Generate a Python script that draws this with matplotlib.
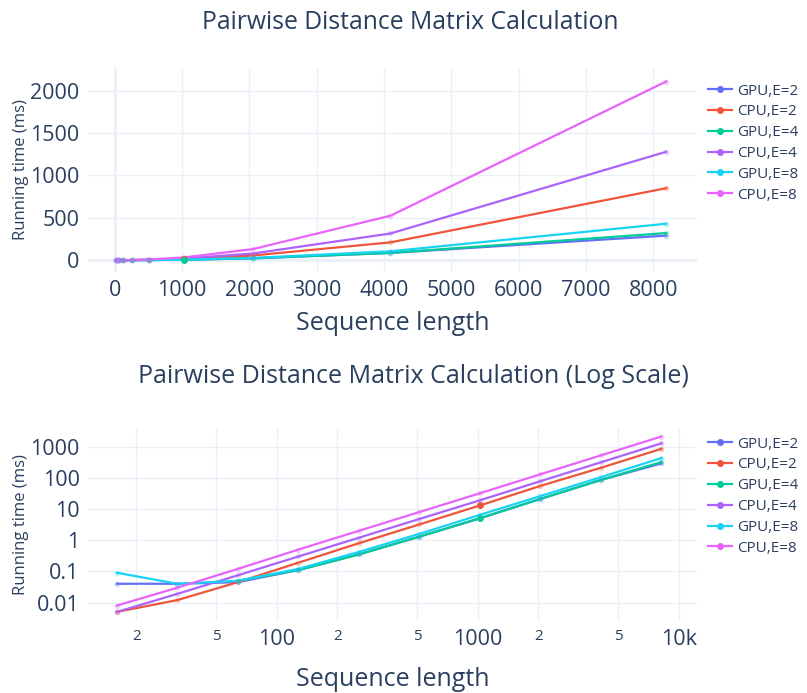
import numpy as np
import matplotlib.pyplot as plt
from matplotlib.lines import Line2D

plt.rcParams['font.family'] = ['Open Sans', 'DejaVu Sans']

seq_len = [16, 32, 64, 128, 256, 512, 1024, 2048, 4096, 8192]
names = ['GPU,E=2', 'CPU,E=2', 'GPU,E=4', 'CPU,E=4', 'GPU,E=8', 'CPU,E=8']
gpu_e2 = [0.04, 0.04, 0.045, 0.11, 0.35, 1.3, 5.0, 21, 85, 290]
cpu_e2 = [0.005, 0.012, 0.045, 0.19, 0.8, 3.2, 13, 55, 210, 850]
gpu_e4 = [np.nan, np.nan, 0.05, 0.11, 0.35, 1.3, 5.1, 21, 86, 320]
cpu_e4 = [0.005, 0.019, 0.075, 0.3, 1.2, 4.8, 19, 78, 315, 1280]
gpu_e8 = [0.09, 0.04, 0.05, 0.12, 0.42, 1.6, 6.5, 26, 105, 430]
cpu_e8 = [0.008, 0.03, 0.12, 0.5, 2.0, 8.0, 32, 130, 525, 2110]
series = [gpu_e2, cpu_e2, gpu_e4, cpu_e4, gpu_e8, cpu_e8]
colors = ['#636efa', '#EF553B', '#00cc96', '#ab63fa', '#19d3f3', '#e763fa']

txt = '#2a3f5f'
grid = '#EBF0F8'

fig = plt.figure(figsize=(8.07, 6.93), dpi=100)
ax1 = fig.add_axes([0.109, 0.6075, 0.7546, 0.2944])
ax2 = fig.add_axes([0.109, 0.104, 0.7546, 0.2785])

for ax in (ax1, ax2):
    for name, ys, c in zip(names, series, colors):
        ax.plot(seq_len, ys, '-', color=c, lw=1.6, zorder=2)
        ax.plot(seq_len, ys, 'o', color=c, ms=4, alpha=0.3, mec='none', zorder=3)
        if name in ('CPU,E=2', 'GPU,E=4'):
            ax.plot(seq_len[6], ys[6], 'o', color=c, ms=5, mec='none', zorder=4)
    for s in ax.spines.values():
        s.set_visible(False)
    ax.grid(True, color=grid, lw=1)
    ax.set_axisbelow(True)
    ax.tick_params(length=0, colors=txt, labelsize=15.5, pad=6)
    ax.set_ylabel('Running time (ms)', color=txt, fontsize=12, labelpad=1)

ax1.set_xlabel('Sequence length', color=txt, fontsize=18, labelpad=7)
ax2.set_xlabel('Sequence length', color=txt, fontsize=18, labelpad=12)

# linear plot
ax1.set_xlim(-400, 8650)
ax1.set_ylim(-140, 2270)
ax1.set_xticks(np.arange(0, 8001, 1000))
ax1.set_yticks([0, 500, 1000, 1500, 2000])
ax1.axhline(0, color=grid, lw=2, zorder=1)
ax1.axvline(0, color=grid, lw=2, zorder=1)
ax1.set_title('Pairwise Distance Matrix Calculation', color=txt, fontsize=17.8, pad=28, x=0.53)

# log plot
ax2.set_xscale('log')
ax2.set_yscale('log')
ax2.set_xlim(10**1.06, 10**4.09)
ax2.set_ylim(10**-2.59, 10**3.6)
xt = [20, 50, 100, 200, 500, 1000, 2000, 5000, 10000]
xl = ['2', '5', '100', '2', '5', '1000', '2', '5', '10k']
ax2.set_xticks(xt)
ax2.set_xticklabels(xl)
ax2.xaxis.set_minor_locator(plt.NullLocator())
for lab in ax2.get_xticklabels():
    if lab.get_text() in ('2', '5'):
        lab.set_fontsize(11)
ax2.set_yticks([0.01, 0.1, 1, 10, 100, 1000])
ax2.set_yticklabels(['0.01', '0.1', '1', '10', '100', '1000'])
ax2.yaxis.set_minor_locator(plt.NullLocator())
ax2.set_title('Pairwise Distance Matrix Calculation (Log Scale)', color=txt, fontsize=18, pad=32, x=0.535)

handles = [Line2D([], [], color=c, lw=1.6, marker='o', ms=4) for c in colors]
for ax, top in ((ax1, 0.976), (ax2, 1.01)):
    leg = ax.legend(handles, names, loc='upper left', bbox_to_anchor=(1.0, top),
                    frameon=False, fontsize=11, labelspacing=0.38,
                    handlelength=1.6, handletextpad=0.3, borderaxespad=0.3)
    for t in leg.get_texts():
        t.set_color(txt)

plt.savefig('out.png', dpi=100)
